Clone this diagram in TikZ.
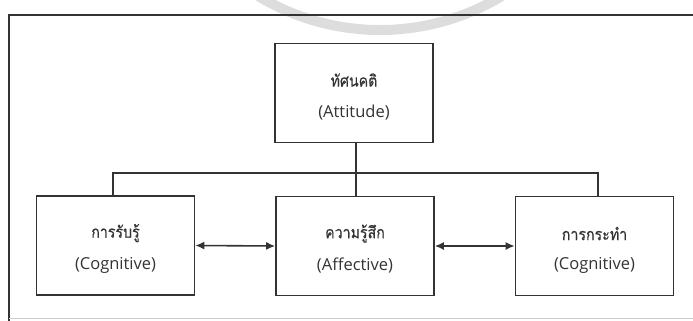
\documentclass[tikz,border=0pt]{standalone}
\usepackage{fontspec}
\setmainfont{Open Sans}
\newfontfamily\thai[Script=Thai,FakeStretch=0.86,FakeBold=0.4]{Loma}
\usetikzlibrary{arrows.meta}
\definecolor{ink}{HTML}{333333}
\definecolor{wm}{HTML}{DDDDDD}
\begin{document}
\begin{tikzpicture}[x=1pt,y=-1pt,
  box/.style={draw=ink,line width=1.6pt,minimum width=158pt,minimum height=99pt,inner sep=0pt},
  thline/.style={text=ink,font=\thai\fontsize{16.5}{18}\selectfont,inner sep=0pt},
  enline/.style={text=ink,font=\fontsize{16.5}{18}\selectfont,inner sep=0pt},
  link/.style={draw=ink,line width=1.4pt},
  biarrow/.style={draw=ink,line width=1.6pt,{Latex[length=9pt,width=8pt]}-{Latex[length=9pt,width=8pt]}}]
\useasboundingbox (0,0) rectangle (693,321);
% faint ring printed behind the frame
\begin{scope}
  \clip (0,0) rectangle (693,321);
  \draw[wm,line width=10pt] (380,-205) circle (235pt);
\end{scope}
% outer frame
\draw[ink,line width=1.5pt] (9,321) -- (9,15) -- (693,15);
\draw[ink!25,line width=1pt] (9,318) -- (693,318);
% boxes
\node[box] (t) at (354,93) {};
\node[box] (l) at (115.5,245.5) {};
\node[box] (m) at (355,246) {};
\node[box] (r) at (594.5,246) {};
% labels (yshift is measured upwards on the page)
\node[thline] (t1) at ([yshift=13pt]t.center) {ทัศนคติ};
\node[enline] (t2) at ([yshift=-20pt]t.center) {(Attitude)};
\node[thline] (l1) at ([yshift=12.5pt]l.center) {การรับรู้};
\node[enline] (l2) at ([yshift=-19.5pt]l.center) {(Cognitive)};
\node[thline] (m1) at ([yshift=12.5pt]m.center) {ความรู้สึก};
\node[enline] (m2) at ([yshift=-19.5pt]m.center) {(Affective)};
\node[thline] (r1) at ([yshift=12.5pt]r.center) {การกระทำ};
\node[enline] (r2) at ([yshift=-19.5pt]r.center) {(Cognitive)};
% connectors
\coordinate (bus) at (356,173);
\draw[link] (t.south -| bus) -- (m.north -| bus);
\draw[link] ([xshift=-2.5pt]l.north) |- (bus) -| ([xshift=3.5pt]r.north);
\draw[biarrow] (l.east) -- (m.west);
\draw[biarrow] (m.east) -- (r.west);
\end{tikzpicture}
\end{document}
